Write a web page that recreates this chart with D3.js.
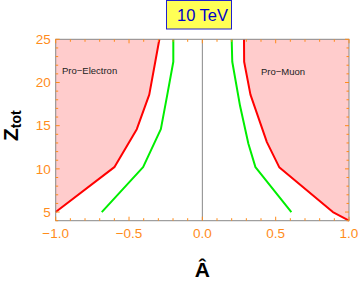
<!DOCTYPE html>
<html>
<head>
<meta charset="utf-8">
<style>
    body { margin: 0; background: #fff; }
    svg { display: block; font-family: 'Liberation Sans', Arial, sans-serif; }
</style>
</head>
<body>
<svg width="360" height="285"></svg>
<script src="https://d3js.org/d3.v7.min.js"></script>
<script>
    // Z values sampled along each curve
    let zLeft = [5, 10.2, 14.6, 18.6, 22.4, 25];
    let leftRed = [-1.0, -0.60, -0.447, -0.362, -0.321, -0.293];
    let leftGreen = [-0.686, -0.404, -0.283, -0.239, -0.198, -0.198];
    let zRightRed = [4, 5, 10.2, 13.1, 18.6, 22.4, 25];
    let rightRed = [1.0, 0.89, 0.524, 0.44, 0.328, 0.285, 0.284];
    let zRightGreen = [5, 10.2, 12.9, 17.3, 22.4, 25];
    let rightGreen = [0.607, 0.362, 0.314, 0.257, 0.204, 0.2];

    let xTicks = [-1.0, -0.5, 0.0, 0.5, 1.0];
    let yTicks = [5, 10, 15, 20, 25];

    let svg = d3.select("svg");
    let margin = {top: 39.3, right: 11, bottom: 64.3, left: 55.7};
    let width = 360, height = 285;

    let x = d3.scaleLinear().domain([-1, 1]).range([margin.left, width - margin.right]);
    let y = d3.scaleLinear().domain([4, 25]).range([height - margin.bottom, margin.top]);

    let orange = "#ff8c1a";
    let frameGrey = "#888";

    // shaded regions
    let lr = zLeft.map((z, i) => [leftRed[i], z]);
    let leftArea = [[-1, 25], [-1, 5]].concat(lr.slice(1)).concat([[leftRed[leftRed.length - 1], 25]]);
    let rr = zRightRed.map((z, i) => [rightRed[i], z]);
    let rightArea = rr.concat([[1, 25], [1, 4]]);

    let poly = d3.line().x(d => x(d[0])).y(d => y(d[1]));

    svg.append("path").attr("d", poly(leftArea) + "Z").attr("fill", "#ffcccc");
    svg.append("path").attr("d", poly(rightArea) + "Z").attr("fill", "#ffcccc");

    // zero line
    svg.append("line")
        .attr("x1", x(0)).attr("x2", x(0))
        .attr("y1", y(4)).attr("y2", y(25))
        .attr("stroke", frameGrey).attr("stroke-width", 1);

    // curves
    let curves = [
        {pts: lr, color: "#ff0000"},
        {pts: zLeft.map((z, i) => [leftGreen[i], z]), color: "#00ee00"},
        {pts: rr, color: "#ff0000"},
        {pts: zRightGreen.map((z, i) => [rightGreen[i], z]), color: "#00ee00"}
    ];
    svg.append("g").selectAll("path")
        .data(curves)
        .join("path")
        .attr("d", d => poly(d.pts))
        .attr("fill", "none")
        .attr("stroke", d => d.color)
        .attr("stroke-width", 2)
        .attr("stroke-linejoin", "round");

    // frame
    svg.append("rect")
        .attr("x", x(-1)).attr("y", y(25))
        .attr("width", x(1) - x(-1)).attr("height", y(4) - y(25))
        .attr("fill", "none").attr("stroke", frameGrey).attr("stroke-width", 1);

    // ticks (inward, on all four sides)
    let xMinor = d3.range(-10, 11).map(i => i / 10);
    let yMinor = d3.range(4, 26);
    let tk = svg.append("g").attr("stroke", orange).attr("stroke-width", 1);
    xMinor.forEach(v => {
        let len = Math.abs(v * 2 - Math.round(v * 2)) < 1e-6 ? 4 : 2.5;
        tk.append("line").attr("x1", x(v)).attr("x2", x(v)).attr("y1", y(4)).attr("y2", y(4) - len);
        tk.append("line").attr("x1", x(v)).attr("x2", x(v)).attr("y1", y(25)).attr("y2", y(25) + len);
    });
    yMinor.forEach(v => {
        let len = v % 5 === 0 ? 4 : 2.5;
        tk.append("line").attr("y1", y(v)).attr("y2", y(v)).attr("x1", x(-1)).attr("x2", x(-1) + len);
        tk.append("line").attr("y1", y(v)).attr("y2", y(v)).attr("x1", x(1)).attr("x2", x(1) - len);
    });

    // tick labels
    let fmt = d3.format(".1f");
    svg.append("g").selectAll("text")
        .data(xTicks)
        .join("text")
        .attr("x", d => x(d))
        .attr("y", y(4) + 17)
        .attr("text-anchor", "middle")
        .attr("font-size", 13.5)
        .attr("fill", orange)
        .text(d => fmt(d).replace("-", "\u2212"));

    svg.append("g").selectAll("text")
        .data(yTicks)
        .join("text")
        .attr("x", x(-1) - 5)
        .attr("y", d => y(d) + 4.8)
        .attr("text-anchor", "end")
        .attr("font-size", 13.5)
        .attr("fill", orange)
        .text(d => d);

    // region labels
    svg.append("text").attr("x", 62).attr("y", 73.5)
        .attr("font-size", 9.5).attr("fill", "#222").text("Pro\u2212Electron");
    svg.append("text").attr("x", 261).attr("y", 75)
        .attr("font-size", 9.5).attr("fill", "#222").text("Pro\u2212Muon");

    // title box
    svg.append("rect").attr("x", 166.5).attr("y", 0.5).attr("width", 65).attr("height", 28.5)
        .attr("fill", "#ffff55").attr("stroke", "#2020cc").attr("stroke-width", 1);
    svg.append("text").attr("x", 202.5).attr("y", 21)
        .attr("text-anchor", "middle").attr("font-size", 16.5).attr("fill", "#0000cc").text("10 TeV");

    // axis labels
    let zl = svg.append("text")
        .attr("transform", "translate(17.5,141) rotate(-90)")
        .attr("font-weight", "bold").attr("fill", "#000");
    zl.append("tspan").attr("font-size", 21).text("Z");
    zl.append("tspan").attr("font-size", 14).attr("dy", 3).text("tot");

    svg.append("text").attr("x", x(0)).attr("y", 277)
        .attr("text-anchor", "middle").attr("font-weight", "bold").attr("font-size", 21)
        .attr("fill", "#000").text("\u00c2");
</script>
</body>
</html>
